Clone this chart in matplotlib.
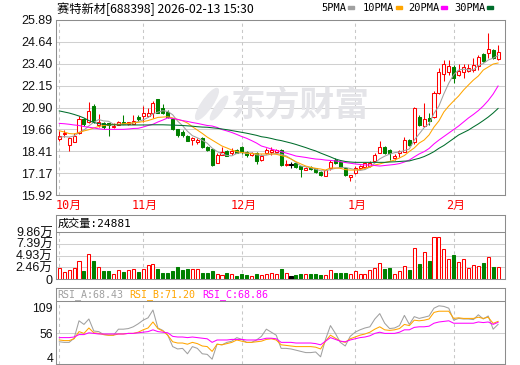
import matplotlib
matplotlib.use('Agg')
import matplotlib.pyplot as plt
from matplotlib.patches import Rectangle, Ellipse
import numpy as np

# ---- data (daily candles, 2025-10-09 .. 2026-02-13) ----
opens = [19.13, 19.40, 18.77, 18.96, 19.47, 20.23, 20.08, 21.00, 19.91, 20.00,
         20.02, 19.78, 19.93, 20.08, 19.96, 19.99, 20.38, 20.42, 20.42, 20.62,
         21.37, 20.86, 20.67, 20.25, 19.67, 19.52, 19.30, 19.05, 18.92, 19.15,
         18.64, 18.52, 17.76, 18.20, 18.45, 18.32, 18.50, 18.63, 18.35, 18.20,
         18.30, 17.92, 18.32, 18.37, 18.35, 18.49, 17.63, 17.63, 17.72, 17.57,
         17.35, 17.50, 17.44, 17.25, 17.01, 17.44, 17.92, 17.82, 17.44, 16.95,
         17.16, 17.44, 17.50, 17.57, 17.88, 18.33, 18.64, 18.49, 18.05, 18.32,
         18.39, 19.05, 18.94, 20.36, 19.87, 20.30, 20.39, 21.71, 22.80, 22.95,
         23.23, 22.76, 22.95, 22.98, 23.04, 23.29, 23.93, 23.99, 24.18, 23.65]
highs = [19.55, 19.62, 19.24, 19.44, 20.42, 20.30, 21.22, 21.10, 20.55, 20.10,
         20.05, 20.05, 20.15, 20.50, 20.10, 20.50, 20.45, 21.00, 20.86, 21.30,
         21.40, 21.08, 20.75, 20.30, 19.68, 19.60, 19.35, 19.22, 19.17, 19.20,
         18.72, 18.55, 18.30, 18.66, 18.50, 18.60, 18.55, 18.72, 18.45, 18.35,
         18.35, 18.25, 18.62, 18.66, 18.55, 18.55, 17.92, 17.82, 17.80, 17.60,
         17.50, 17.55, 17.48, 17.30, 17.40, 17.92, 18.00, 17.88, 17.50, 17.06,
         17.55, 17.65, 17.80, 17.85, 18.30, 19.00, 18.70, 18.55, 18.25, 18.49,
         19.22, 19.10, 20.95, 20.45, 21.15, 20.60, 21.85, 23.15, 23.61, 23.61,
         23.30, 23.37, 23.37, 23.37, 23.74, 23.90, 24.00, 25.15, 24.25, 24.47]
lows = [18.98, 19.22, 18.44, 18.96, 19.40, 19.85, 20.00, 20.05, 19.82, 19.70,
        19.28, 19.75, 19.90, 19.95, 19.93, 19.97, 20.15, 20.08, 20.35, 20.33,
        20.60, 20.55, 20.30, 19.60, 19.20, 19.25, 18.98, 18.77, 18.85, 18.60,
        18.45, 17.60, 17.74, 18.18, 18.12, 18.20, 18.30, 18.28, 18.10, 18.15,
        17.70, 17.88, 18.28, 18.20, 18.30, 17.60, 17.60, 17.44, 17.45, 16.96,
        17.32, 17.35, 17.17, 17.00, 16.98, 17.35, 17.70, 17.45, 17.00, 16.74,
        17.10, 17.40, 17.45, 17.52, 17.85, 18.30, 18.28, 17.92, 17.92, 18.10,
        18.35, 18.72, 18.85, 19.85, 19.82, 19.91, 20.30, 21.65, 22.40, 22.76,
        22.28, 22.70, 22.57, 22.90, 22.95, 23.04, 23.50, 23.72, 23.65, 23.60]
closes = [19.28, 19.48, 19.15, 19.28, 20.23, 19.95, 20.71, 20.14, 20.08, 19.81,
          19.88, 19.86, 20.08, 19.99, 20.08, 20.13, 20.23, 20.57, 20.62, 21.15,
          20.62, 20.62, 20.38, 19.67, 19.34, 19.34, 19.01, 19.15, 19.05, 18.64,
          18.50, 17.63, 18.20, 18.35, 18.15, 18.43, 18.33, 18.38, 18.18, 18.30,
          17.85, 18.15, 18.49, 18.47, 18.47, 17.63, 17.69, 17.63, 17.50, 17.38,
          17.44, 17.38, 17.25, 17.06, 17.35, 17.82, 17.73, 17.50, 17.06, 17.05,
          17.44, 17.57, 17.72, 17.76, 18.20, 18.67, 18.30, 18.32, 18.15, 18.43,
          19.05, 18.77, 20.85, 19.91, 20.23, 20.14, 21.71, 22.95, 23.37, 23.29,
          22.57, 23.00, 23.23, 23.17, 23.30, 23.80, 23.55, 24.22, 23.71, 24.07]

ma5 = [19.20, 19.25, 19.22, 19.28, 19.48, 19.62, 19.86, 20.06, 20.22, 20.14,
       20.12, 19.95, 19.94, 19.92, 19.98, 20.03, 20.10, 20.20, 20.33, 20.54,
       20.64, 20.72, 20.68, 20.49, 20.13, 19.87, 19.55, 19.30, 19.18, 19.04,
       18.87, 18.59, 18.40, 18.26, 18.17, 18.15, 18.29, 18.33, 18.29, 18.32,
       18.21, 18.17, 18.19, 18.25, 18.29, 18.24, 18.15, 17.98, 17.78, 17.57,
       17.53, 17.47, 17.39, 17.30, 17.30, 17.37, 17.44, 17.49, 17.49, 17.43,
       17.36, 17.32, 17.37, 17.51, 17.74, 17.98, 18.13, 18.25, 18.33, 18.37,
       18.45, 18.54, 19.05, 19.40, 19.76, 19.98, 20.57, 20.99, 21.68, 22.29,
       22.78, 23.04, 23.09, 23.05, 23.05, 23.30, 23.41, 23.61, 23.72, 23.87]
ma10 = [19.58, 19.51, 19.42, 19.40, 19.48, 19.57, 19.64, 19.74, 19.82, 19.88,
        19.91, 19.94, 19.95, 19.98, 20.00, 20.03, 20.06, 20.10, 20.16, 20.25,
        20.34, 20.36, 20.38, 20.31, 20.22, 20.15, 20.02, 19.81, 19.62, 19.43,
        19.22, 19.05, 18.88, 18.71, 18.60, 18.48, 18.40, 18.34, 18.31, 18.28,
        18.26, 18.26, 18.26, 18.26, 18.24, 18.17, 18.10, 17.97, 17.82, 17.69,
        17.57, 17.50, 17.44, 17.40, 17.34, 17.46, 17.46, 17.44, 17.37, 17.34,
        17.34, 17.37, 17.44, 17.52, 17.63, 17.69, 17.77, 17.83, 17.91, 18.03,
        18.17, 18.40, 18.60, 18.88, 19.05, 19.34, 19.79, 20.14, 20.65, 20.99,
        21.28, 21.56, 21.90, 22.19, 22.47, 22.70, 23.04, 23.21, 23.38, 23.44]
ma20 = [20.00, 19.98, 19.95, 19.91, 19.88, 19.82, 19.78, 19.74, 19.69, 19.66,
        19.66, 19.66, 19.66, 19.66, 19.68, 19.71, 19.72, 19.79, 19.88, 19.95,
        20.08, 20.19, 20.31, 20.28, 20.23, 20.16, 20.11, 20.05, 20.00, 19.94,
        19.88, 19.85, 19.77, 19.65, 19.57, 19.48, 19.37, 19.25, 19.15, 19.02,
        18.88, 18.71, 18.63, 18.54, 18.46, 18.39, 18.31, 18.23, 18.14, 18.10,
        18.06, 18.01, 17.97, 17.95, 17.91, 17.89, 17.86, 17.82, 17.77, 17.73,
        17.69, 17.66, 17.63, 17.63, 17.60, 17.57, 17.60, 17.63, 17.66, 17.71,
        17.80, 17.91, 18.09, 18.26, 18.39, 18.57, 18.83, 19.05, 19.25, 19.45,
        19.65, 19.85, 20.08, 20.31, 20.51, 20.73, 20.99, 21.30, 21.67, 22.13]
ma30 = [20.71, 20.65, 20.59, 20.51, 20.42, 20.31, 20.16, 20.05, 19.99, 19.94,
        19.92, 19.92, 19.91, 19.91, 19.91, 19.91, 19.91, 19.91, 19.91, 19.92,
        19.92, 19.92, 19.91, 19.90, 19.89, 19.88, 19.86, 19.84, 19.81, 19.79,
        19.78, 19.75, 19.72, 19.68, 19.64, 19.59, 19.54, 19.49, 19.44, 19.38,
        19.32, 19.24, 19.20, 19.14, 19.07, 19.02, 18.95, 18.88, 18.80, 18.71,
        18.62, 18.52, 18.43, 18.31, 18.20, 18.09, 17.97, 17.89, 17.83, 17.80,
        17.78, 17.78, 17.78, 17.78, 17.78, 17.78, 17.78, 17.80, 17.81, 17.83,
        17.85, 17.86, 17.94, 18.01, 18.11, 18.24, 18.39, 18.58, 18.74, 18.94,
        19.14, 19.34, 19.48, 19.62, 19.80, 19.97, 20.16, 20.36, 20.59, 20.85]

volume = [24500, 15300, 18900, 24500, 37800, 17400, 52400, 37800, 25800, 17400,
          16800, 11900, 18900, 15300, 18900, 22400, 15300, 22400, 29400, 31500,
          21000, 13200, 13200, 17400, 25800, 18900, 21000, 21000, 21000, 13200,
          13200, 17400, 11900, 8400, 13200, 10500, 6300, 10500, 9800, 7000,
          10500, 8400, 10500, 14000, 10500, 22400, 13200, 6300, 8400, 11900,
          10500, 10500, 11900, 8400, 8400, 20300, 13200, 14000, 14000, 11900,
          16800, 10500, 10500, 20300, 24500, 35000, 21000, 24500, 10500, 16800,
          28700, 18900, 64400, 31500, 56000, 37800, 87500, 87500, 62300, 42000,
          50400, 37100, 41300, 23100, 30800, 27300, 34200, 45500, 25800, 24881]

rsi_a = [38.9, 37.7, 37.7, 46.1, 81.2, 73.9, 84.8, 60.6, 59.4, 53.4,
         52.2, 52.2, 64.3, 64.3, 65.5, 69.1, 75.1, 82.4, 87.2, 102.9,
         66.7, 61.8, 52.2, 29.2, 24.4, 25.6, 14.7, 29.2, 25.6, 14.7,
         13.5, 3.8, 34.0, 32.8, 37.7, 40.1, 47.3, 43.7, 37.7, 37.7,
         42.5, 49.8, 64.3, 58.2, 52.2, 25.6, 25.6, 24.4, 22.0, 19.5,
         17.1, 17.1, 18.3, 8.6, 43.7, 71.5, 55.8, 37.7, 30.4, 49.8,
         58.2, 63.0, 66.7, 69.1, 84.8, 95.7, 76.3, 65.5, 66.7, 71.5,
         92.1, 73.9, 89.6, 86.0, 88.4, 90.9, 106.6, 111.4, 110.2, 106.6,
         82.4, 86.0, 84.8, 84.8, 83.6, 93.3, 84.8, 90.9, 64.3, 74.0]
rsi_b = [42.5, 41.3, 41.3, 44.9, 59.4, 55.8, 66.7, 57.0, 55.8, 53.4,
         52.2, 52.2, 54.6, 54.6, 55.8, 55.8, 58.2, 63.0, 66.7, 78.8,
         65.5, 60.6, 52.2, 38.9, 36.4, 36.4, 34.0, 37.7, 35.2, 30.4,
         29.2, 19.5, 34.0, 32.8, 35.2, 37.7, 42.5, 40.1, 37.7, 37.7,
         38.9, 40.1, 43.7, 44.9, 42.5, 32.8, 31.6, 30.4, 29.2, 29.2,
         29.2, 29.2, 28.0, 24.4, 40.1, 52.2, 46.1, 40.1, 37.7, 44.9,
         48.5, 52.2, 54.6, 58.2, 64.3, 69.1, 63.0, 61.8, 63.0, 65.5,
         73.9, 71.5, 82.4, 81.2, 82.4, 84.8, 98.1, 100.5, 100.5, 100.5,
         86.0, 87.2, 86.0, 86.0, 86.0, 88.4, 86.0, 88.4, 76.0, 80.0]
rsi_c = [47.3, 47.3, 47.3, 48.5, 53.4, 53.4, 57.0, 55.8, 54.6, 54.6,
         54.6, 54.6, 54.6, 54.6, 55.8, 55.8, 57.0, 58.2, 59.4, 63.0,
         59.4, 58.2, 57.0, 49.8, 48.5, 48.5, 47.3, 48.5, 47.3, 46.1,
         44.9, 37.7, 42.5, 42.5, 42.5, 43.7, 43.7, 43.7, 42.5, 42.5,
         42.5, 43.7, 46.1, 46.1, 44.9, 37.7, 37.7, 37.7, 36.4, 36.4,
         36.4, 36.4, 35.2, 32.8, 40.1, 47.3, 43.7, 40.1, 38.9, 42.5,
         44.9, 47.3, 48.5, 51.0, 55.8, 58.2, 55.8, 55.8, 55.8, 58.2,
         63.0, 63.0, 67.9, 69.1, 69.1, 70.3, 76.3, 78.8, 80.0, 81.2,
         76.3, 76.3, 76.3, 76.3, 76.3, 78.8, 77.6, 78.8, 74.0, 78.0]

month_pos = [0, 17, 37, 60, 80]
month_labels = ['10月', '11月', '12月', '1月', '2月']
price_ticks = ['25.89', '24.64', '23.40', '22.15', '20.90', '19.66', '18.41', '17.17', '15.92']
vol_ticks = [0, 24650, 49300, 73950, 98600]
vol_tick_labels = ['0', '2.46万', '4.93万', '7.39万', '9.86万']
rsi_ticks = [4, 56, 109]

title = '赛特新材[688398] 2026-02-13 15:30'
vol_title = '成交量:24881'
rsi_titles = ['RSI_A:68.43', 'RSI_B:71.20', 'RSI_C:68.86']
ma_names = ['5PMA', '10PMA', '20PMA', '30PMA']

# ---- styling ----
RED, GREEN = '#ff0000', '#008000'
C_MA = ['#a0a0a0', '#ffa500', '#ff00ff', '#006d2c']
FRAME = '#8c8c8c'
GRID = '#d0d0d0'
LW = 0.75
MONO_CJK = ['DejaVu Sans Mono', 'Noto Sans CJK SC']
NUM = ['Liberation Sans', 'Noto Sans CJK SC']

W, H = 520, 365
fig = plt.figure(figsize=(W / 100, H / 100), dpi=100)
fig.patch.set_facecolor('white')


def px_axes(left, top, right, bottom):
    return fig.add_axes([left / W, 1 - bottom / H, (right - left) / W, (bottom - top) / H])


def px_text(x, y, s, **kw):
    return fig.text(x / W, 1 - y / H, s, **kw)


SLOT, X0 = 4.93, 59.3
LEFT, RIGHT = 55.7, 505
xlim = ((LEFT - X0) / SLOT, (RIGHT - X0) / SLOT)

o, h, l, c = map(np.array, (opens, highs, lows, closes))
idx = np.arange(len(c))
edge = np.where(c > o, RED, np.where(c < o, GREEN, '#000000'))
fill = np.where(c > o, 'white', edge)


def frame(a, family=NUM):
    a.set_xlim(*xlim)
    a.set_xticks([])
    for s in a.spines.values():
        s.set_color(FRAME)
        s.set_linewidth(LW)
    a.tick_params(axis='y', length=0, pad=2.2, labelsize=9, labelcolor='#111111')
    for t in a.get_yticklabels():
        t.set_family(family)


# ---- price panel ----
ax = px_axes(LEFT, 20, RIGHT, 195)
ax.set_ylim(15.92, 25.89)
pt = [float(s) for s in price_ticks]
ax.set_yticks(pt)
ax.set_yticklabels(price_ticks)
frame(ax, 'Liberation Sans')
for t in pt:
    ax.axhline(t, color=GRID, lw=LW, zorder=0)
for m in month_pos:
    ax.axvline(m, color='#c8c8c8', lw=LW, ls=(0, (3, 3)), zorder=0)

# faint watermark
px_text(231, 105, '东方财富', family='Noto Sans CJK SC', fontweight='bold',
        fontsize=25, color='#e4e4e8', va='center', zorder=0)
for cx, cy, w_, h_, ang in [(207, 104, 11, 34, -25), (219, 108, 8, 26, -25)]:
    fig.patches.append(Ellipse((cx / W, 1 - cy / H), w_ / W, h_ / H, angle=ang,
                               transform=fig.transFigure, color='#e8e8ec', zorder=0))

ax.vlines(idx, l, h, colors=edge, lw=LW, zorder=2)
ax.bar(idx, np.maximum(np.abs(c - o), 0.03), bottom=np.minimum(o, c), width=0.62,
       color=fill, edgecolor=edge, linewidth=LW, zorder=3)
for series, col in zip([ma5, ma10, ma20, ma30], C_MA):
    ax.plot(idx, series, color=col, lw=LW, zorder=4)

for m, lab in zip(month_pos, month_labels):
    if m == 0:
        ax.text(xlim[0] - 0.1, -0.057, lab, transform=ax.get_xaxis_transform(),
                ha='left', va='center', color=RED, fontsize=8.5, family=MONO_CJK)
    else:
        ax.text(m + 0.3, -0.057, lab, transform=ax.get_xaxis_transform(),
                ha='center', va='center', color=RED, fontsize=8.5, family=MONO_CJK)

# ---- volume panel ----
axv = px_axes(LEFT, 215, RIGHT, 279.3)
axv.set_ylim(0, vol_ticks[-1] * 64.3 / 47.3)
axv.set_yticks(vol_ticks)
axv.set_yticklabels(vol_tick_labels)
frame(axv)
for t in vol_ticks[1:-1]:
    axv.axhline(t, color=GRID, lw=LW, zorder=0)
axv.axhline(vol_ticks[-1], color=FRAME, lw=LW, zorder=1)
axv.vlines(month_pos, 0, vol_ticks[-1], colors='#c8c8c8', lw=LW, linestyles=(0, (3, 3)), zorder=0)
axv.bar(idx, volume, width=0.62, color=fill, edgecolor=edge, linewidth=LW, zorder=3)
px_text(58, 223.5, vol_title, family=MONO_CJK, fontsize=8, va='center', color='#000000')

# ---- RSI panel ----
axr = px_axes(LEFT, 288.3, RIGHT, 364)
axr.set_ylim(-5.9, 146.7)
frame(axr, 'Liberation Sans')
axr.set_yticks([])
ytr = axr.get_yaxis_transform()
for v in rsi_ticks:
    # the lowest label sits on the picture's bottom edge, keep its box inside
    va = 'center' if v == rsi_ticks[0] else 'center_baseline'
    axr.text(-0.006, v, str(v), transform=ytr, ha='right', va=va,
             fontsize=8.8, family='Liberation Sans', color='#111111')
axr.axhline(56, color=GRID, lw=LW, zorder=0)
axr.axhline(121.1, color=FRAME, lw=LW, zorder=1)
axr.vlines(month_pos, -5.9, 121.1, colors='#c8c8c8', lw=LW, linestyles=(0, (3, 3)), zorder=0)
for series, col in zip([rsi_a, rsi_b, rsi_c], C_MA[:3]):
    axr.plot(idx, series, color=col, lw=LW, zorder=3)
for x, s, col in zip([57.5, 129.5, 202], rsi_titles, C_MA[:3]):
    px_text(x, 294.8, s, family='DejaVu Sans Mono', fontsize=7.2, va='center', color=col)

# ---- header ----
px_text(57, 9, title, family='Noto Sans CJK SC', fontsize=8.8, va='center', color='#000000')
for x, name, col in zip([321, 363, 408, 454], ma_names, C_MA):
    px_text(x, 8, name, family='DejaVu Sans Mono', fontsize=7.5, va='center', color='#000000')
    wpx = len(name) * 6.27
    fig.patches.append(Rectangle(((x + wpx + 1.5) / W, 1 - 9.3 / H), 6 / W, 3.2 / H,
                                 transform=fig.transFigure, color=col, zorder=5))

fig.savefig('out.png', dpi=100, facecolor='white')
